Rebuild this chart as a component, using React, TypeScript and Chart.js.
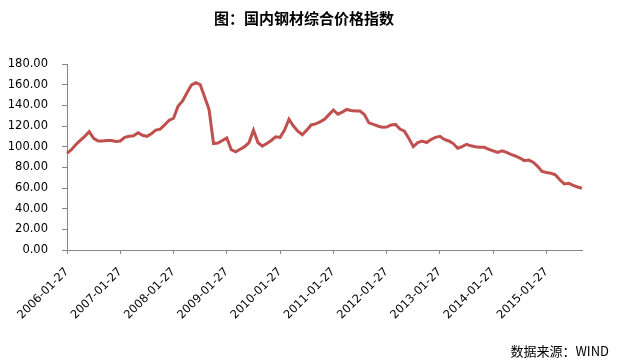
import React, { useEffect, useRef } from "react";
import { Chart, registerables } from "chart.js";

Chart.register(...registerables);

const TITLE = "图：国内钢材综合价格指数";
const SOURCE = "数据来源：WIND";

// Monthly observations from 2006-01-27 to 2015-09-27
const START_YEAR = 2006;
const MONTH_COUNT = 117;
const categories: string[] = Array.from({ length: MONTH_COUNT }, (_, i) => {
  const y = START_YEAR + Math.floor(i / 12);
  const m = (i % 12) + 1;
  return `${y}-${m < 10 ? "0" + m : m}-27`;
});

const priceIndex: number[] = [
  // 2006
  93.6, 97, 102, 106, 110, 114.5, 108, 105.5, 105.5, 106, 106, 105,
  // 2007
  105.5, 109, 110, 110.5, 113.5, 111, 110, 112.5, 116, 117, 121, 125.5,
  // 2008
  127.5, 139, 144, 152, 159.5, 162, 160, 148, 136, 103, 103.5, 106,
  // 2009
  108.5, 97, 95, 97.5, 100, 104, 116, 104, 100.5, 103, 106, 109.5,
  // 2010
  109, 116, 126.5, 120, 115, 111.5, 116, 121, 122, 124, 126.5, 131,
  // 2011
  135.5, 131.5, 133.5, 136, 135, 134.5, 134.5, 131, 123, 121.5, 120, 118.7,
  // 2012
  119, 121, 121.5, 117, 115, 108, 100, 104, 105.5, 104, 107, 109,
  // 2013
  110, 107, 105.5, 103, 98.5, 100, 102.3, 100.8, 100, 99.4, 99.4, 97.5,
  // 2014
  96, 94.5, 96, 94.5, 92.5, 91, 89, 86.5, 87, 85, 81, 76,
  // 2015
  75, 74.3, 72.8, 68, 64, 64.5, 62.5, 61, 59.7,
];

const Y_MIN = 0;
const Y_MAX = 180;
const Y_STEP = 20;
const LABEL_EVERY = 12;

const textPlugin = {
  id: "extraText",
  afterDraw(chart: any) {
    const ctx = chart.ctx;
    ctx.save();
    ctx.fillStyle = "#000";
    ctx.font = 'bold 15px "Noto Sans CJK SC", sans-serif';
    ctx.textAlign = "center";
    ctx.textBaseline = "middle";
    ctx.fillText(TITLE, 304, 18);
    ctx.font = '13px "Noto Sans CJK SC", sans-serif';
    ctx.textAlign = "right";
    ctx.fillText(SOURCE, 609, 351);
    ctx.restore();
  },
};

export default function App() {
  const ref = useRef<HTMLCanvasElement | null>(null);

  useEffect(() => {
    if (!ref.current) return;
    const chart = new Chart(ref.current, {
      type: "line",
      data: {
        labels: categories,
        datasets: [
          {
            data: priceIndex,
            borderColor: "#C0504D",
            borderWidth: 3,
            pointRadius: 0,
            tension: 0,
            fill: false,
          },
        ],
      },
      options: {
        animation: false,
        responsive: false,
        maintainAspectRatio: false,
        layout: { padding: { top: 64, right: 35, bottom: 0, left: 0 } },
        plugins: {
          legend: { display: false },
          tooltip: { enabled: false },
          title: { display: false },
        },
        scales: {
          x: {
            type: "category",
            offset: false,
            border: { color: "#868686", width: 1 },
            grid: {
              drawOnChartArea: false,
              drawTicks: true,
              tickLength: 4,
              color: "#868686",
            },
            ticks: {
              autoSkip: false,
              maxRotation: 45,
              minRotation: 45,
              padding: 11,
              color: "#000",
              font: { family: '"DejaVu Sans", sans-serif', size: 11.5 },
              callback: (_v: any, i: number) =>
                i % LABEL_EVERY === 0 ? categories[i] : null,
            },
            afterFit: (s: any) => {
              s.height = 114;
            },
          },
          y: {
            min: Y_MIN,
            max: Y_MAX,
            border: { color: "#868686", width: 1 },
            grid: {
              drawOnChartArea: false,
              drawTicks: true,
              tickLength: 5,
              color: "#868686",
            },
            ticks: {
              stepSize: Y_STEP,
              padding: 14,
              color: "#000",
              font: { family: '"DejaVu Sans", sans-serif', size: 11.5 },
              callback: (v: any) => Number(v).toFixed(2),
            },
            afterFit: (s: any) => {
              s.width = 67;
            },
          },
        },
      },
      plugins: [textPlugin],
    });
    return () => chart.destroy();
  }, []);

  return (
    <div style={{ position: "fixed", left: 0, top: 0, width: 617, height: 364, background: "#fff" }}>
      <canvas ref={ref} width={617} height={364} style={{ width: 617, height: 364 }} />
    </div>
  );
}
